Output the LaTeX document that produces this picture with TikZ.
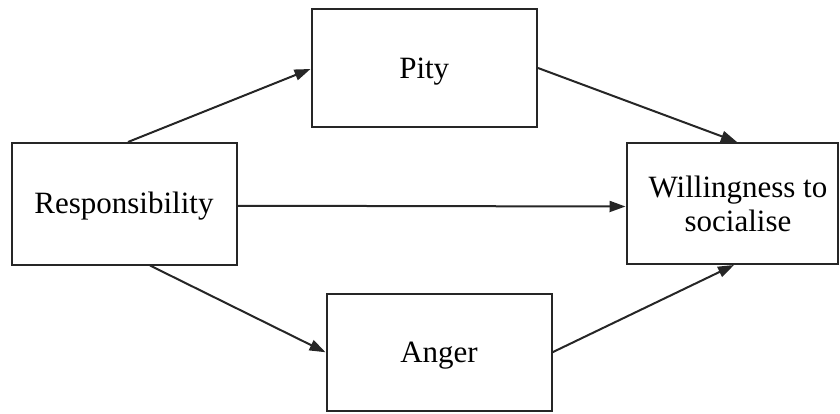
\documentclass[tikz,border=0pt]{standalone}
\usepackage{fontspec}
\setmainfont{Liberation Serif}
\usetikzlibrary{arrows.meta}
\begin{document}
\begin{tikzpicture}[x=1pt,y=-1pt,
  box/.style={draw=black!85, line width=2pt, rectangle, inner sep=0pt, align=center,
    font=\fontsize{31}{34}\selectfont},
  oneline/.style={box, text height=20.5pt, text depth=0pt},
  link/.style={draw=black!85, line width=2pt, -{Triangle[length=16pt,width=11pt]}}]
  \useasboundingbox (0,0) rectangle (840,414);
  % the four variables
  \node[oneline, minimum width=225pt, minimum height=121.5pt] (resp) at (124,203.75) {Responsibility};
  \node[oneline, minimum width=225.5pt, minimum height=118pt] (pity) at (424.25,68) {Pity};
  \node[oneline, minimum width=225pt, minimum height=116.5pt] (anger) at (439,352.25) {Anger};
  \node[box, minimum width=211pt, minimum height=121pt] (will) at (732,203.5) {\hspace*{12pt}Willingness to\\\hspace*{12pt}socialise};
  % paths between them
  \draw[link] ([xshift=4pt]resp.north) -- ([yshift=-1pt]pity.west);
  \draw[link] (pity.east) -- ([xshift=5pt]will.north);
  \draw[link] ([yshift=-2pt]resp.east) -- ([yshift=-3pt]will.west);
  \draw[link] ([xshift=26pt]resp.south) -- (anger.west);
  \draw[link] (anger.east) -- ([xshift=2pt]will.south);
\end{tikzpicture}
\end{document}
